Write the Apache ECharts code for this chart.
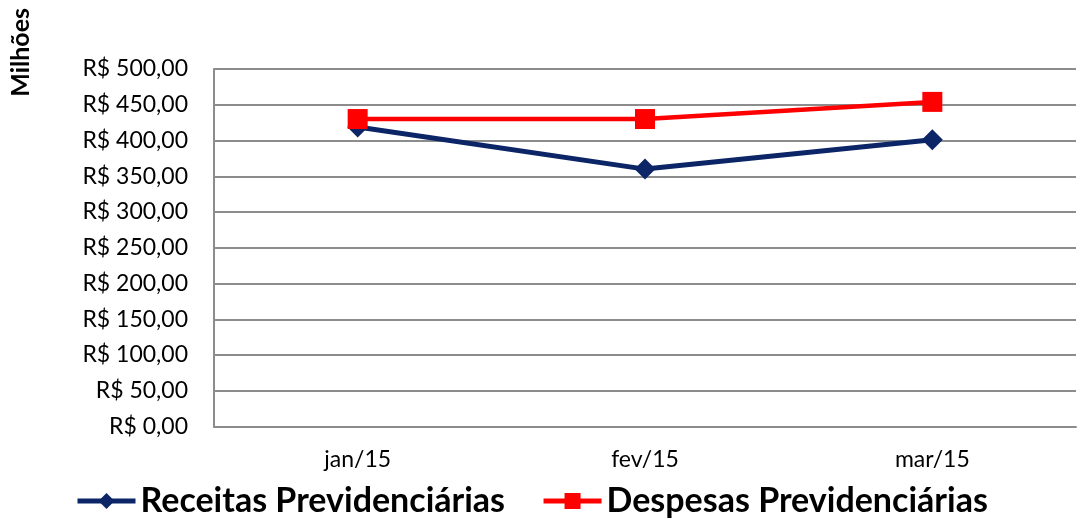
<!DOCTYPE html>
<html>
<head>
<meta charset="utf-8">
<script src="https://cdn.jsdelivr.net/npm/echarts@6/dist/echarts.min.js"></script>
<style>
  html, body { margin: 0; padding: 0; background: #fff; }
  #chart { width: 1078px; height: 523px; }
</style>
</head>
<body>
<div id="chart"></div>
<script>
// Monthly social security figures, in millions of reais
const months = ['jan/15', 'fev/15', 'mar/15'];
const receitas = [419, 360, 401];
const despesas = [430, 430, 454];
const yTicks = [0, 50, 100, 150, 200, 250, 300, 350, 400, 450, 500];

const FONT = 'Lato';
const NAVY = '#0b2566';
const RED = '#ff0000';

function brl(v) {
  return 'R$ ' + v.toFixed(2).replace('.', ',');
}

const chart = echarts.init(document.getElementById('chart'), null, { renderer: 'canvas' });

chart.setOption({
  backgroundColor: '#ffffff',
  animation: false,
  grid: { left: 214, right: 2, top: 69, bottom: 96.5, containLabel: false },
  legend: {
    left: 70,
    top: 479,
    itemGap: 36,
    itemWidth: 58,
    itemHeight: 20,
    textStyle: { fontFamily: FONT, fontWeight: 'bold', fontSize: 34, color: '#000' },
    data: [
      { name: 'Receitas Previdenciárias', lineStyle: { width: 5, color: NAVY } },
      { name: 'Despesas Previdenciárias', lineStyle: { width: 5, color: RED } }
    ]
  },
  xAxis: {
    type: 'category',
    data: months,
    boundaryGap: true,
    axisLine: { lineStyle: { color: '#8c8c8c', width: 2 } },
    axisTick: { show: false },
    axisLabel: { fontFamily: FONT, fontSize: 23, color: '#000', margin: 22 }
  },
  yAxis: {
    type: 'value',
    min: yTicks[0],
    max: yTicks[yTicks.length - 1],
    interval: 50,
    axisLine: { show: true, lineStyle: { color: '#8c8c8c', width: 2 } },
    axisTick: { show: false },
    splitLine: { lineStyle: { color: '#8c8c8c', width: 2 } },
    axisLabel: { fontFamily: FONT, fontSize: 23, color: '#000', margin: 26, formatter: brl }
  },
  graphic: [{
    type: 'text',
    left: 8,
    top: 8,
    rotation: Math.PI / 2,
    style: {
      text: 'Milhões',
      fontFamily: FONT,
      fontWeight: 'bold',
      fontSize: 25,
      fill: '#000'
    }
  }],
  series: [
    {
      name: 'Receitas Previdenciárias',
      type: 'line',
      data: receitas,
      symbol: 'diamond',
      symbolSize: [21, 21],
      lineStyle: { color: NAVY, width: 5 },
      itemStyle: { color: NAVY },
      z: 2
    },
    {
      name: 'Despesas Previdenciárias',
      type: 'line',
      data: despesas,
      symbol: 'rect',
      symbolSize: [20, 20],
      lineStyle: { color: RED, width: 4.5 },
      itemStyle: { color: RED },
      z: 3
    }
  ]
});
</script>
</body>
</html>
